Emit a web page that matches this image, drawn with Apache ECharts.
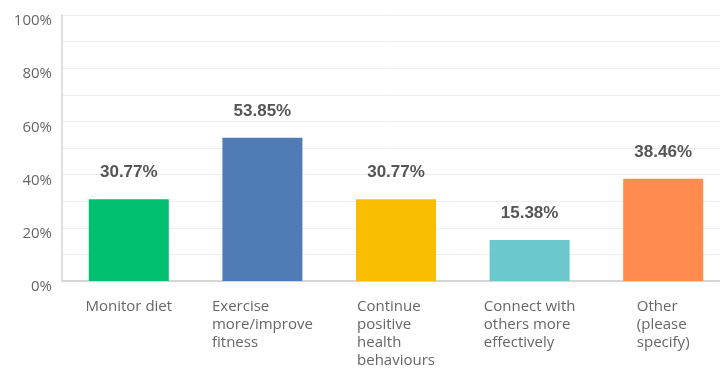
<!DOCTYPE html>
<html>
<head>
<meta charset="utf-8">
<script src="https://cdn.jsdelivr.net/npm/echarts@6/dist/echarts.min.js"></script>
<style>
  html, body { margin: 0; padding: 0; background: #fff; }
  #chart { width: 720px; height: 372px; }
</style>
</head>
<body>
<div id="chart"></div>
<script>
// Survey answers and share of respondents (%)
const categories = [
  'Monitor diet',
  'Exercise\nmore/improve\nfitness',
  'Continue\npositive\nhealth\nbehaviours',
  'Connect with\nothers more\neffectively',
  'Other\n(please\nspecify)'
];
const values = [30.77, 53.85, 30.77, 15.38, 38.46];
const barColors = ['#00BF6F', '#507CB6', '#F9BE00', '#6BC8CD', '#FF8B4F'];
const yTicks = [0, 20, 40, 60, 80, 100];

const chart = echarts.init(document.getElementById('chart'));

chart.setOption({
  animation: false,
  // plot area runs a little past the right edge of the canvas
  grid: { left: 62, top: 15, width: 668, bottom: 91, containLabel: false, outerBoundsMode: 'none' },
  xAxis: {
    type: 'category',
    data: categories,
    axisLine: { show: true, lineStyle: { color: '#d6d6d6', width: 2 } },
    axisTick: { show: false },
    axisLabel: {
      interval: 0,
      margin: 17,
      color: '#666666',
      fontFamily: 'Open Sans',
      fontSize: 15,
      lineHeight: 18,
      verticalAlign: 'top',
      // Lines stay left-aligned inside a block that is centred under the bar
      formatter: v => v.split('\n').map(s => '{t|' + s + '}').join('\n'),
      rich: {
        t: { align: 'left', color: '#666666', fontFamily: 'Open Sans', fontSize: 15, lineHeight: 18 }
      }
    }
  },
  yAxis: {
    type: 'value',
    min: yTicks[0],
    max: yTicks[yTicks.length - 1],
    interval: 20,
    minorTick: { show: false, splitNumber: 2 },
    minorSplitLine: { show: true, lineStyle: { color: '#ececec', width: 1 } },
    splitLine: { show: true, lineStyle: { color: '#ececec', width: 1 } },
    axisLine: { show: true, lineStyle: { color: '#e0e0e0', width: 2 } },
    axisTick: { show: false },
    axisLabel: {
      margin: 10,
      color: '#666666',
      fontFamily: 'Open Sans',
      fontSize: 15,
      verticalAlign: 'top',
      lineHeight: 12,
      formatter: v => v + '%'
    }
  },
  series: [{
    type: 'bar',
    data: values.map((v, i) => ({ value: v, itemStyle: { color: barColors[i] } })),
    barWidth: 80,
    label: {
      show: true,
      position: 'top',
      distance: 18,
      color: '#555555',
      fontFamily: 'Liberation Sans',
      fontSize: 17,
      fontWeight: 'bold',
      formatter: p => p.value.toFixed(2) + '%'
    }
  }]
});
</script>
</body>
</html>
